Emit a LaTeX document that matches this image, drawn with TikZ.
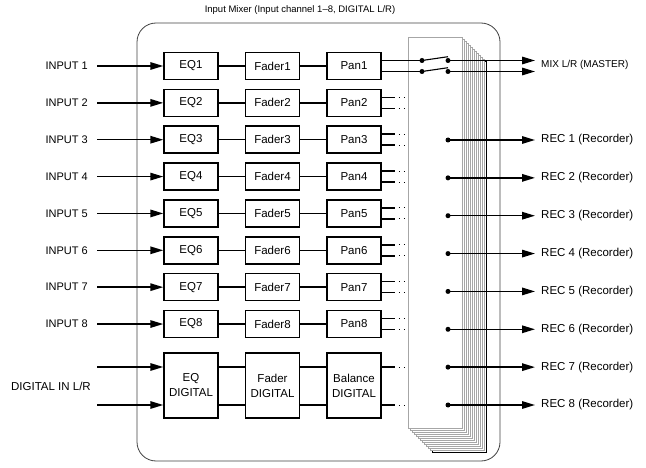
\documentclass[tikz,border=0pt]{standalone}
\usepackage{fontspec}
\setmainfont{Liberation Sans}
\usetikzlibrary{arrows.meta}
\begin{document}
\begin{tikzpicture}[x=1pt,y=-1pt,
  blk/.style={draw,line width=1.5pt,minimum width=54pt,minimum height=27pt,inner sep=0pt,font=\fontsize{11.5}{12}\selectfont},
  dblk/.style={blk,minimum height=65pt,align=center,font=\fontsize{11.5}{15}\selectfont},
  wire/.style={line width=1.5pt},
  arr/.style={line width=1.5pt,-{Triangle[length=13pt,width=7.5pt]}},
  lbl/.style={font=\fontsize{11}{12}\selectfont,inner sep=0pt},
  dot/.style={circle,fill,inner sep=0pt,minimum size=5pt},
  trail/.style={line width=1pt,dash pattern=on 1pt off 4pt},
  panel/.style={draw=gray!70,line width=0.6pt,fill=white}]
\useasboundingbox (0,0) rectangle (646,468);
% outer frame
\draw[black!75,line width=0.8pt,rounded corners=19pt] (137,23) rectangle (500,461);
\node[lbl,font=\fontsize{9.5}{11}\selectfont] (title) at (300,10) {Input Mixer (Input channel 1\textendash 8, DIGITAL L/R)};
% stacked panels
\foreach \k in {12,11,...,0}{
  \ifnum\k=12
    \draw[panel,draw=black] (408+2*\k,37+2*\k) rectangle (462+2*\k,428+2*\k);
  \else
    \draw[panel] (408+2*\k,37+2*\k) rectangle (462+2*\k,428+2*\k);
  \fi
}
% input channels
\foreach \i in {1,...,8}{
  \pgfmathsetmacro\yy{66+36.86*(\i-1)}
  \node[blk] (eq\i) at (191,\yy) {EQ\i};
  \node[blk] (fd\i) at (272.5,\yy) {Fader\i};
  \node[blk] (pn\i) at (354,\yy) {Pan\i};
  \node[lbl,anchor=east] (in\i) at (88,\yy) {INPUT \i};
  \coordinate (s\i) at (97,\yy);
  \draw[arr] (s\i) -- (eq\i);
  \draw[wire] (eq\i) -- (fd\i);
  \draw[wire] (fd\i) -- (pn\i);
}
\foreach \i in {2,...,8}{
  \draw[wire] ([yshift=5.5pt]pn\i.east) -- ++(13,0);
  \draw[wire] ([yshift=-5.5pt]pn\i.east) -- ++(13,0);
  \draw[trail] ([yshift=5.5pt,xshift=17pt]pn\i.east) -- ++(6,0);
  \draw[trail] ([yshift=-5.5pt,xshift=17pt]pn\i.east) -- ++(6,0);
}
% digital
\node[dblk] (eqd) at (191,385.5) {EQ\\DIGITAL};
\node[dblk] (fdd) at (272.5,385.5) {Fader\\DIGITAL};
\node[dblk] (bal) at (354,385.5) {Balance\\DIGITAL};
\coordinate (dl) at (97,367);
\coordinate (dr) at (97,405);
\node[lbl,anchor=east,font=\fontsize{11.5}{12}\selectfont] (din) at (91,386) {DIGITAL IN L/R};
\foreach \c in {dl,dr}{
  \draw[arr] (\c) -- (eqd.west |- \c);
  \draw[wire] (eqd.east |- \c) -- (fdd.west |- \c);
  \draw[wire] (fdd.east |- \c) -- (bal.west |- \c);
  \draw[wire] (bal.east |- \c) -- ++(13,0);
  \draw[trail] ([xshift=17pt]bal.east |- \c) -- ++(10,0);
}
% master switch
\node[dot] (la) at (422,60.5) {};
\node[dot] (lb) at (422,71.5) {};
\node[dot] (ra) at (448,60.5) {};
\node[dot] (rb) at (448,71.5) {};
\draw[wire] ([yshift=5.5pt]pn1.east) -- (la.center);
\draw[wire] ([yshift=-5.5pt]pn1.east) -- (lb.center);
\draw[line width=1.1pt] (la.center) -- ++(26,-3.8);
\draw[line width=1.1pt] (lb.center) -- ++(26,-3.8);
\coordinate (ma) at (535,60.5);
\coordinate (mb) at (535,71.5);
\draw[arr] (ra.center) -- (ma);
\draw[arr] (rb.center) -- (mb);
\node[lbl,anchor=west,font=\fontsize{10}{12}\selectfont] (mix) at (541,65) {MIX L/R (MASTER)};
% recorder outputs
\foreach \k in {1,...,8}{
  \pgfmathsetmacro\yy{140+37.857*(\k-1)}
  \node[dot] (rd\k) at (448,\yy) {};
  \coordinate (re\k) at (535,\yy);
  \draw[arr] (rd\k.center) -- (re\k);
  \node[lbl,anchor=west,font=\fontsize{11.5}{12}\selectfont] (rl\k) at (541,\yy) {REC \k\ (Recorder)};
}
\end{tikzpicture}
\end{document}
